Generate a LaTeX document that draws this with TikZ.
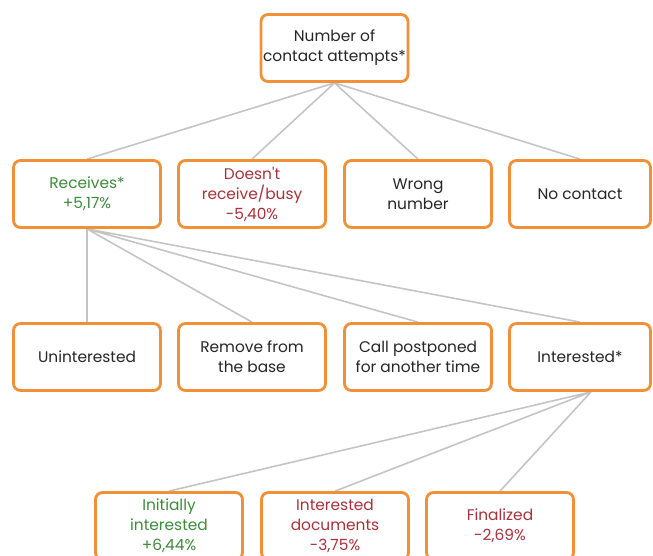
\documentclass[tikz,border=0pt]{standalone}
\usepackage{fontspec}
\setmainfont{Poppins}
\usetikzlibrary{backgrounds}
\definecolor{boxorange}{HTML}{F0913A}
\definecolor{linegray}{HTML}{C4C4C4}
\definecolor{txtgreen}{HTML}{3D8B3D}
\definecolor{txtred}{HTML}{A8323A}
\definecolor{txtdark}{HTML}{262626}
\tikzset{
  box/.style={draw=boxorange, line width=2.8pt, rounded corners=7pt, fill=white,
    minimum height=67pt, inner sep=1pt, align=center, text=txtdark,
    font=\fontsize{15.4}{20}\selectfont},
  wbox/.style={box, minimum width=147pt},
  nbox/.style={box, minimum width=141pt},
  link/.style={draw=linegray, line width=1.6pt},
  good/.style={text=txtgreen},
  bad/.style={text=txtred}
}
\begin{document}
\begin{tikzpicture}[x=1pt,y=-1pt]
\useasboundingbox (0,0) rectangle (653,555);
\node[wbox] (top) at (334.5,48) {Number of\\contact attempts*};
\node[wbox, good] (rec) at (87,194) {Receives*\\+5,17\%};
\node[wbox, bad] (dnr) at (252,194) {Doesn\textquotesingle t\\receive/busy\\-5,40\%};
\node[wbox] (wrong) at (418,194) {Wrong\\number};
\node[nbox] (nocon) at (580,194) {No contact};
\node[wbox] (unint) at (87,357) {Uninterested};
\node[wbox] (remove) at (252,357) {Remove from\\the base};
\node[wbox] (call) at (418,357) {Call postponed\\for another time};
\node[nbox] (inter) at (580,357) {Interested*};
\node[wbox, good] (init) at (169,526) {Initially\\interested\\+6,44\%};
\node[wbox, bad] (docs) at (335,526) {Interested\\documents\\-3,75\%};
\node[wbox, bad] (fin) at (500,526) {Finalized\\-2,69\%};
\coordinate (isrc) at ([xshift=11pt]inter.south);
\begin{scope}[on background layer]
\path[link] (top.south) -- (rec.north) (top.south) -- (dnr.north)
  (top.south) -- (wrong.north) (top.south) -- (nocon.north);
\path[link] (rec.south) -- (unint.north) (rec.south) -- (remove.north)
  (rec.south) -- (call.north) (rec.south) -- (inter.north);
\path[link] (isrc) -- (init.north) (isrc) -- (docs.north) (isrc) -- (fin.north);
\end{scope}
\end{tikzpicture}
\end{document}
